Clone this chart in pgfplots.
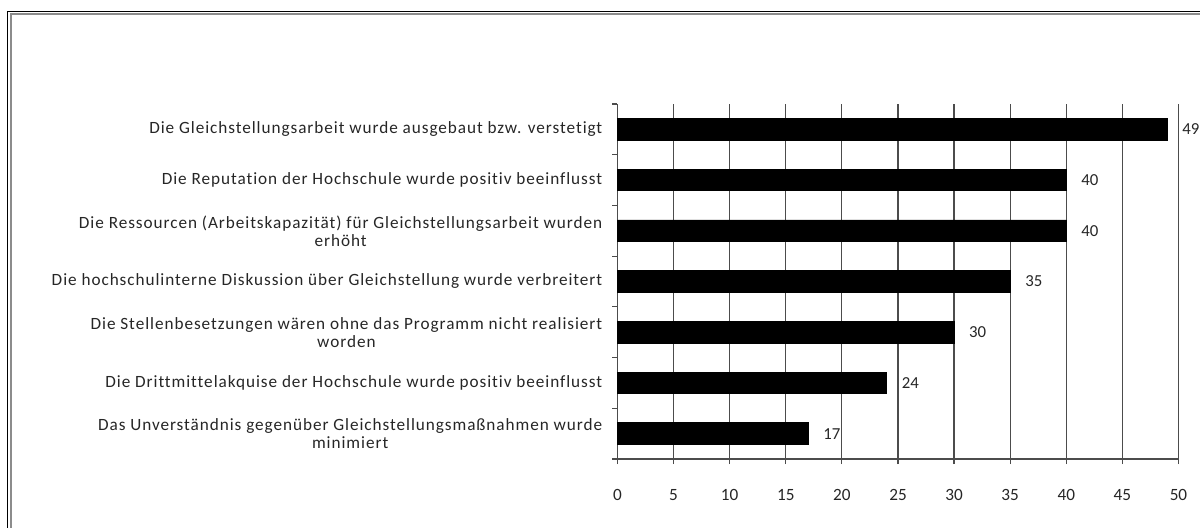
\documentclass[border=0pt]{standalone}
\usepackage{pgfplots}
\pgfplotsset{compat=1.18}
\usepackage{fontspec}
\setmainfont{Carlito}
\newfontfamily\lab[LetterSpace=5.5, Ligatures=NoCommon]{Carlito}
\begin{document}
\begin{tikzpicture}
\path[use as bounding box] (0,0) rectangle (600pt,-264pt);
\draw[black, line width=0.6pt] (3.75pt,-5.75pt) rectangle (640pt,-300pt);
\draw[black!45, line width=1pt] (5.65pt,-6.8pt) rectangle (638pt,-298pt);
\begin{axis}[
  at={(308.75pt,-229.5pt)}, anchor=south west,
  scale only axis, width=280.5pt, height=177.5pt,
  xmin=0, xmax=50, ymin=-0.5, ymax=6.5,
  xbar, bar width=10.8pt,
  axis lines*=left,
  axis line style={-, draw=black!70, line width=0.6pt},
  xtick={0,5,...,50},
  xmajorgrids, major grid style={draw=black!70, line width=0.6pt},
  x tick style={draw=black!70, line width=0.6pt},
  tick align=outside, major tick length=2.6pt,
  ytick={0,...,6},
  y tick style={draw=none},
  minor ytick={-0.5,0.5,...,6.5},
  minor y tick style={draw=black!70, line width=0.6pt},
  minor tick length=2.6pt,
  yticklabels={
    {Das Unverständnis gegenüber Gleichstellungsmaßnahmen wurde\\minimiert},
    {Die Drittmittelakquise der Hochschule wurde positiv beeinflusst},
    {Die Stellenbesetzungen wären ohne das Programm nicht realisiert\\worden},
    {Die hochschulinterne Diskussion über Gleichstellung wurde verbreitert},
    {Die Ressourcen (Arbeitskapazität) für Gleichstellungsarbeit wurden\\erhöht},
    {Die Reputation der Hochschule wurde positiv beeinflusst},
    {Die Gleichstellungsarbeit wurde ausgebaut bzw. verstetigt}
  },
  yticklabel style={font=\lab\fontsize{8.6}{9}\selectfont, text=black!85, align=center, xshift=-1.5pt},
  xticklabel style={font=\fontsize{8.6}{9}\selectfont, text=black!85, yshift=-9pt},
  /pgf/number format/assume math mode=true,
  nodes near coords,
  every node near coord/.append style={font=\fontsize{8.4}{9}\selectfont, text=black!85, anchor=west, xshift=4pt},
  clip=false,
]
\addplot[fill=black, draw=black] coordinates {
  (17,0) (24,1) (30,2) (35,3) (40,4) (40,5) (49,6)
};
\end{axis}
\end{tikzpicture}
\end{document}
